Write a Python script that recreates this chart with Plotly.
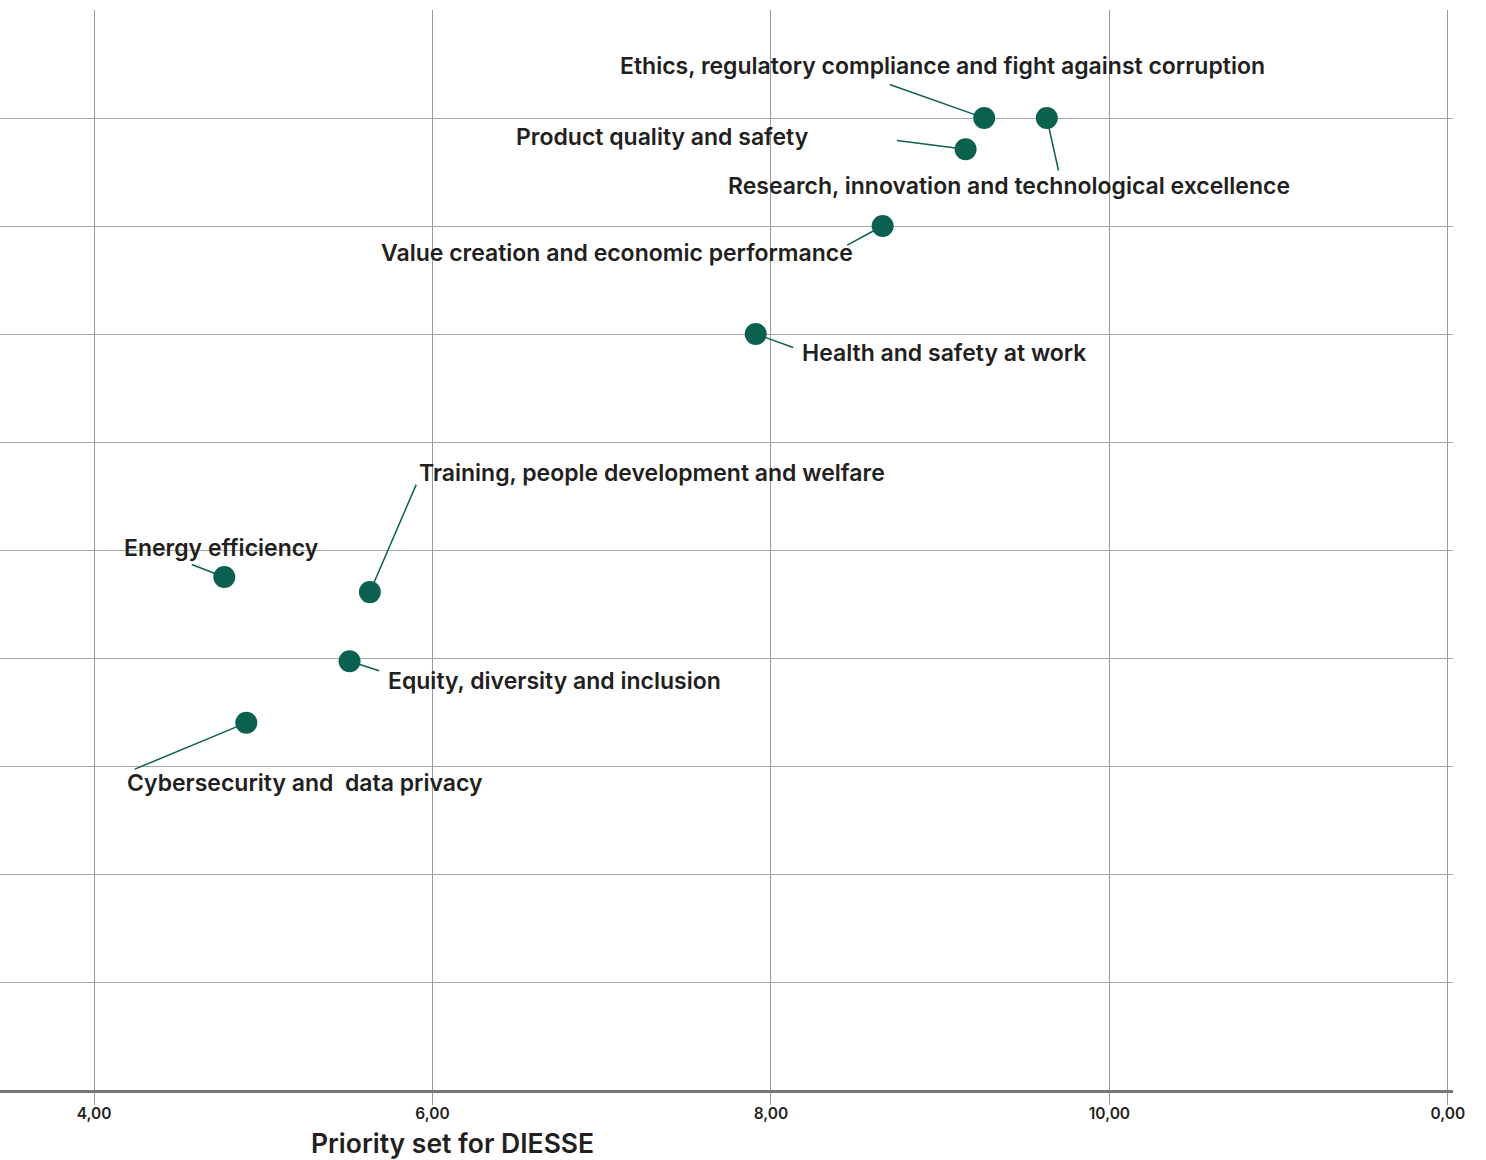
import plotly.graph_objects as go

# ---- data ----
topics = [
    "Ethics, regulatory compliance and fight against corruption",
    "Product quality and safety",
    "Research, innovation and technological excellence",
    "Value creation and economic performance",
    "Health and safety at work",
    "Training, people development and welfare",
    "Energy efficiency",
    "Equity, diversity and inclusion",
    "Cybersecurity and  data privacy",
]
priority_diesse = [9.26, 9.15, 9.63, 8.66, 7.91, 5.63, 4.77, 5.51, 4.90]
priority_stakeholders = [9.00, 8.71, 9.00, 8.00, 7.00, 4.61, 4.75, 3.97, 3.40]

x_tick_vals = [4, 6, 8, 10, 12]
x_tick_text = ["4,00", "6,00", "8,00", "10,00", "0,00"]
y_tick_vals = [0, 1, 2, 3, 4, 5, 6, 7, 8, 9, 10]

# ---- label layout (pixel offsets from each point) ----
label_anchor = ["center", "center", "center", "center", "left", "left", "center", "left", "center"]
label_xshift = [-42, -303, -38, -266, 44, 47, -3, 36, 59]
label_yshift = [52, 12, -68, -27, -19, 119, 29, -20, -60]
leader_ax = [-96, -70, 12, -37, 39, 47, -34, 31, -113]
leader_ay = [-34, -9, 54, 20, 14, -109, -13, 10, 47]

GREEN = "#0b6150"
TEXT = "#231f20"
FONT = "Inter, 'Open Sans', sans-serif"

fig = go.Figure()
fig.add_trace(go.Scatter(
    x=priority_diesse, y=priority_stakeholders, mode="markers",
    marker=dict(size=22, color=GREEN, line=dict(width=0)),
    hoverinfo="text", text=topics, showlegend=False,
))

annotations = []
for i, t in enumerate(topics):
    annotations.append(dict(
        x=priority_diesse[i], y=priority_stakeholders[i], xref="x", yref="y",
        text="", showarrow=True, arrowhead=0, arrowwidth=1.5, arrowcolor=GREEN,
        ax=leader_ax[i], ay=leader_ay[i], axref="pixel", ayref="pixel", standoff=10,
    ))
    annotations.append(dict(
        x=priority_diesse[i], y=priority_stakeholders[i], xref="x", yref="y",
        text=t, showarrow=False, xanchor=label_anchor[i], yanchor="middle",
        xshift=label_xshift[i], yshift=label_yshift[i],
        font=dict(family=FONT, size=23, color=TEXT, weight=600),
    ))

annotations.append(dict(
    x=452 / 1453, y=-0.049, xref="paper", yref="paper",
    text="Priority set for DIESSE", showarrow=False, xanchor="center", yanchor="middle",
    font=dict(family=FONT, size=26.5, color=TEXT, weight=600),
))

fig.update_layout(
    width=1486, height=1160,
    margin=dict(l=0, r=33, t=10, b=70),
    paper_bgcolor="white", plot_bgcolor="white",
    annotations=annotations,
    xaxis=dict(
        range=[3.4446, 12.030], tickvals=x_tick_vals, ticktext=x_tick_text,
        showgrid=True, gridcolor="#9a9a9a", gridwidth=1,
        ticks="outside", ticklen=12, tickcolor="#9a9a9a", tickwidth=1,
        ticklabelstandoff=-5,
        showline=True, linecolor="#777777", linewidth=3,
        zeroline=False,
        tickfont=dict(family=FONT, size=15.5, color=TEXT, weight=600),
    ),
    yaxis=dict(
        range=[0, 10], tickvals=y_tick_vals, showticklabels=False,
        showgrid=True, gridcolor="#a8a8a8", gridwidth=1,
        zeroline=False, showline=False,
    ),
)

fig.write_html(
    "out.html",
    config={"displayModeBar": False},
    post_script="document.body.style.margin='0px';",
)
